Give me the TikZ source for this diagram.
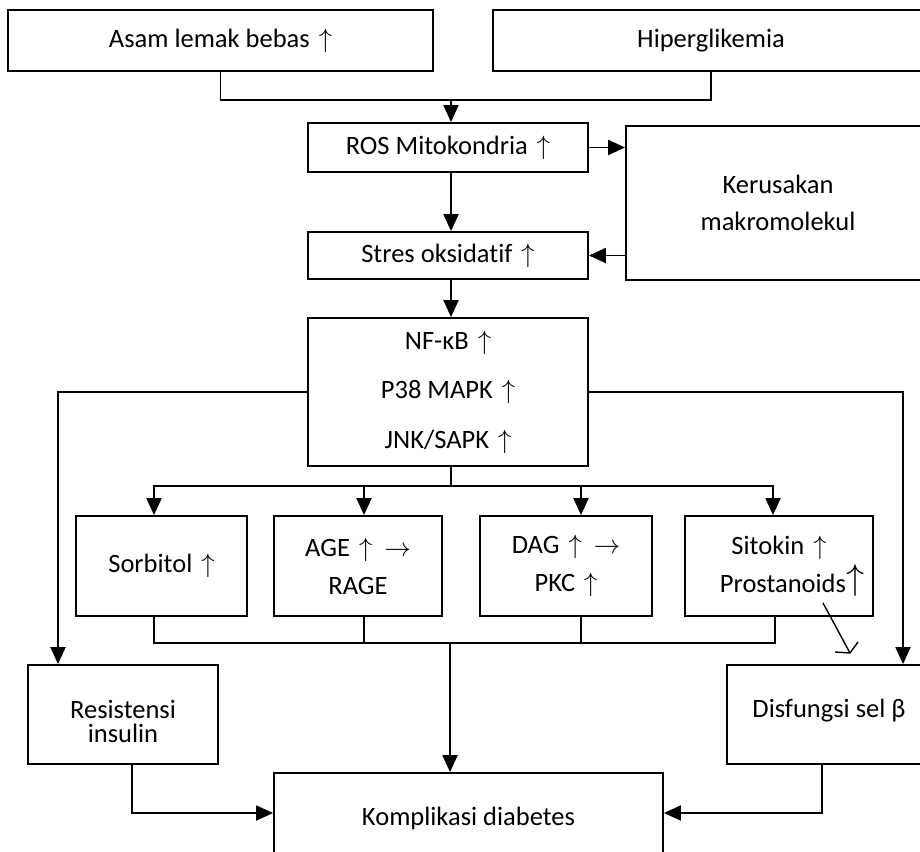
\RequirePackage{fix-cm}
\documentclass[tikz,border=0pt]{standalone}
\usepackage{fontspec}
\setmainfont{Carlito}[Ligatures=CommonOff]
\usetikzlibrary{arrows.meta,calc}
\newcommand{\myup}{\hspace{3pt}$\uparrow$}
\newcommand{\myright}{$\rightarrow$}
\newcommand{\shiftline}[2]{\raisebox{#1}[\height][\depth]{#2}}
\begin{document}
\begin{tikzpicture}[x=1pt,y=-1pt,
  box/.style={draw, line width=1.8pt, inner sep=0pt, align=center, font=\fontsize{26.5}{31}\selectfont},
  conn/.style={line width=1.9pt},
  arr/.style={conn, -{Triangle[length=17pt,width=15pt]}},
  thinconn/.style={line width=1.4pt}]
\useasboundingbox (0,0) rectangle (920,851);
\fill[white] (0,0) rectangle (920,851);
% boxes
\node[box, minimum width=425, minimum height=61] (asam) at (220.5,40.5) {Asam lemak bebas \myup};
\node[box, minimum width=436, minimum height=61] (hiper) at (711,40.5) {Hiperglikemia};
\node[box, minimum width=280, minimum height=49] (ros) at (448,147.5) {ROS Mitokondria \myup};
\node[box, minimum width=304, minimum height=154, font=\fontsize{26.5}{37}\selectfont] (kerus) at (778,203) {Kerusakan\\makromolekul};
\node[box, minimum width=280, minimum height=47] (stres) at (448,255.5) {Stres oksidatif \myup};
\node[box, minimum width=280, minimum height=148, font=\fontsize{26.5}{49.5}\selectfont] (nf) at (448,392) {NF-κB \myup\\P38 MAPK \myup\\JNK/SAPK \myup};
\node[box, minimum width=171, minimum height=100] (sorb) at (161.5,566) {Sorbitol \myup};
\node[box, minimum width=168, minimum height=100, font=\fontsize{26.5}{38}\selectfont] (age) at (358,566) {AGE \myup\ \ \myright\\RAGE};
\node[box, minimum width=172, minimum height=100, font=\fontsize{26.5}{38}\selectfont] (dag) at (566,566) {DAG \myup\ \ \myright\\PKC \myup};
\node[box, minimum width=188, minimum height=100, font=\fontsize{26.5}{38}\selectfont] (sito) at (779,566) {Sitokin \myup\\\hspace*{26pt}Prostanoids{\fontsize{36}{36}\selectfont\raisebox{3pt}{$\uparrow$}}};
\node[box, minimum width=190.5, minimum height=99, font=\fontsize{26.5}{24}\selectfont] (resist) at (123,714.5) {\shiftline{-6.5pt}{Resistensi}\\\shiftline{-6.5pt}{insulin}};
\node[box, minimum width=204, minimum height=99] (disf) at (829,714.5) {\shiftline{4pt}{Disfungsi sel β}};
\node[box, minimum width=389, minimum height=90] (kompl) at (468.5,818) {Komplikasi diabetes};
% helper coordinates
\coordinate (j1) at (451,100);
\coordinate (bus1) at (451,486);
\coordinate (bus2) at (450,643);
\coordinate (xa) at (154,0);
\coordinate (xb) at (364,0);
\coordinate (xc) at (581,0);
\coordinate (xd) at (773,0);
\coordinate (xd2) at (775,0);
\coordinate (lcx) at (58,0);
\coordinate (rcx) at (903,0);
\coordinate (rx) at (132,0);
\coordinate (dx) at (822,0);
\coordinate (ry) at (0,813);
\coordinate (o1) at (823,603);
\coordinate (o2) at (850,653);
\coordinate (ob1) at (835,652);
\coordinate (ob2) at (858,642);
% connectors
\draw[conn] (asam.south) |- (j1) -| (hiper.south);
\draw[arr] (j1) -- (j1 |- ros.north);
\draw[arr] (ros.east) -- (ros.east -| kerus.west);
\draw[arr] (ros.south -| j1) -- (j1 |- stres.north);
\draw[arr] (kerus.west |- stres.east) -- (stres.east);
\draw[arr] (stres.south -| j1) -- (j1 |- nf.north);
\draw[arr] (nf.west) -| (lcx |- resist.north);
\draw[arr] (nf.east) -| (rcx |- disf.north);
\draw[conn] (j1 |- nf.south) -- (bus1);
\draw[arr] (bus1) -| (xa |- sorb.north);
\draw[arr] (bus1) -| (xb |- age.north);
\draw[arr] (bus1) -| (xc |- dag.north);
\draw[arr] (bus1) -| (xd |- sito.north);
\draw[thinconn] (xa |- sorb.south) |- (xd2 |- bus2) -- (xd2 |- sito.south);
\draw[thinconn] (xb |- age.south) -- (xb |- bus2);
\draw[thinconn] (xc |- dag.south) -- (xc |- bus2);
\draw[arr] (bus2) -- (bus2 |- kompl.north);
\draw[arr] (rx |- resist.south) |- (kompl.west |- ry);
\draw[arr] (dx |- disf.south) |- (kompl.east |- ry);
\draw[thinconn] (o1) -- (o2);
\draw[thinconn] (ob1) -- (o2) -- (ob2);
\end{tikzpicture}
\end{document}
